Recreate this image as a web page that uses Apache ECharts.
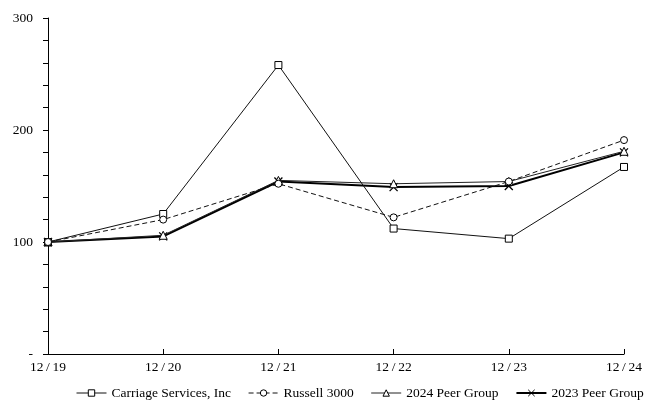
<!DOCTYPE html>
<html><head><meta charset="utf-8">
<script src="https://cdn.jsdelivr.net/npm/echarts@6/dist/echarts.min.js"></script>
<style>html,body{margin:0;padding:0;background:#fff}#c{width:650px;height:407px}</style>
</head><body><div id="c"></div>
<script>
const categories = ['12/19','12/20','12/21','12/22','12/23','12/24'];
const carriage = [100, 125, 258, 112, 103, 167];
const russell = [100, 120, 152, 122, 154, 191];
const peer2024 = [100, 106, 155, 152, 154, 181];
const peer2023 = [100, 105, 154, 149, 150, 180];
const seriesNames = ['Carriage Services, Inc', 'Russell 3000', '2024 Peer Group', '2023 Peer Group'];

const FONT = '"Liberation Serif", "Times New Roman", serif';
const chart = echarts.init(document.getElementById('c'), null, {renderer:'canvas'});
const X = 'path://M0,0L10,10M10,0L0,10';
const legendWidths = [1, 1, 1, 2];
chart.setOption({
  animation:false,
  backgroundColor:'#fff',
  textStyle:{fontFamily:FONT},
  grid:{left:48,right:26,top:18,bottom:53,containLabel:false},
  legend:{
    bottom:2, left:76, width:700, padding:[5,0,5,0], itemWidth:30, itemHeight:8, itemGap:17,
    textStyle:{fontFamily:FONT,fontSize:13.5,color:'#000'},
    data:seriesNames.map((n,i)=>({name:n,lineStyle:{width:legendWidths[i]},
      itemStyle:{borderWidth:1, color: i===3 ? 'transparent' : '#fff', borderColor:'#000'}}))
  },
  xAxis:{
    type:'category', data:categories, boundaryGap:false,
    axisLine:{lineStyle:{color:'#000',width:1}},
    axisTick:{inside:true,length:5,lineStyle:{color:'#000'}},
    axisLabel:{color:'#000',fontFamily:FONT,fontSize:13.5,margin:6,
      formatter:v=>v.replace('/', '\u2009/\u2009')}
  },
  yAxis:{
    type:'value', min:0, max:300, interval:20,
    splitLine:{show:false},
    axisLine:{show:true,lineStyle:{color:'#000',width:1}},
    axisTick:{show:true,length:5,lineStyle:{color:'#000'}},
    axisLabel:{color:'#000',fontFamily:FONT,fontSize:13.5,margin:15,
      formatter:v=> v===0 ? '-' : (v%100===0 ? String(v) : '')}
  },
  series:[
    {name:seriesNames[0],type:'line',data:carriage,symbol:'rect',symbolSize:7,
     lineStyle:{color:'#111',width:1},itemStyle:{color:'#fff',borderColor:'#000',borderWidth:1},z:3},
    {name:seriesNames[1],type:'line',data:russell,symbol:'circle',symbolSize:7,
     lineStyle:{color:'#111',width:1,type:[5,3]},itemStyle:{color:'#fff',borderColor:'#000',borderWidth:1},z:3},
    {name:seriesNames[2],type:'line',data:peer2024,symbol:'triangle',symbolSize:8,
     lineStyle:{color:'#222',width:1},itemStyle:{color:'#fff',borderColor:'#000',borderWidth:1},z:2},
    {name:seriesNames[3],type:'line',data:peer2023,symbol:X,symbolSize:8,
     lineStyle:{color:'#000',width:2},itemStyle:{color:'transparent',borderColor:'#000',borderWidth:1.3},z:1}
  ]
});
</script></body></html>
